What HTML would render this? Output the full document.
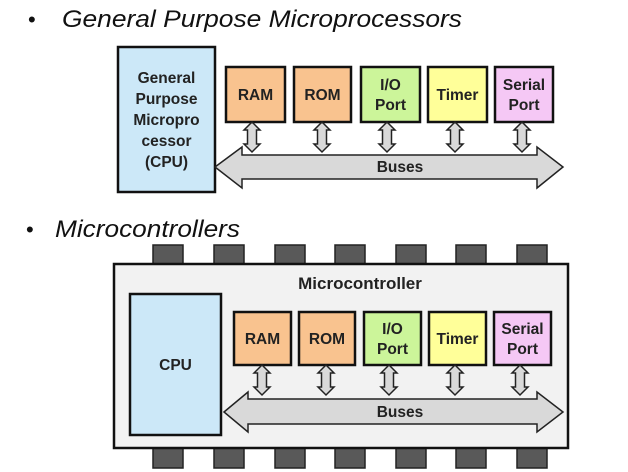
<!DOCTYPE html>
<html><head><meta charset="utf-8"><style>
html,body{margin:0;padding:0;background:#fff;}
svg{display:block;}
text{font-family:"Liberation Sans",Arial,sans-serif;}
.b{font-weight:bold;font-size:15.5px;fill:#222;text-anchor:middle;}
</style></head><body>
<svg width="628" height="472" viewBox="0 0 628 472" xmlns="http://www.w3.org/2000/svg">
<defs>
<path id="sa" d="M0,0 L8,8 L4.5,8 L4.5,22 L8,22 L0,30 L-8,22 L-4.5,22 L-4.5,8 L-8,8 Z" fill="#d9d9d9" stroke="#222" stroke-width="1.5"/>
</defs>
<rect width="628" height="472" fill="#fff"/>
<text x="28" y="27" font-size="22" fill="#111">•</text>
<text x="62" y="27" font-size="24" font-style="italic" fill="#111" textLength="400" lengthAdjust="spacingAndGlyphs">General Purpose Microprocessors</text>
<text x="26" y="237" font-size="22" fill="#111">•</text>
<text x="55" y="237" font-size="24" font-style="italic" fill="#111" textLength="185" lengthAdjust="spacingAndGlyphs">Microcontrollers</text>

<!-- top diagram -->
<rect x="118" y="47" width="97" height="145" fill="#cce8f8" stroke="#111" stroke-width="2.5"/>
<text class="b" x="166.5" y="83">General</text>
<text class="b" x="166.5" y="104">Purpose</text>
<text class="b" x="166.5" y="125">Micropro</text>
<text class="b" x="166.5" y="146">cessor</text>
<text class="b" x="166.5" y="167">(CPU)</text>
<rect x="226" y="67" width="59" height="55" fill="#f9c38f" stroke="#111" stroke-width="2.5"/>
<text class="b" x="255.5" y="100">RAM</text>
<rect x="294" y="67" width="57" height="55" fill="#f9c38f" stroke="#111" stroke-width="2.5"/>
<text class="b" x="322.5" y="100">ROM</text>
<rect x="361" y="67" width="59" height="55" fill="#ccf59a" stroke="#111" stroke-width="2.5"/>
<text class="b" x="390.5" y="90">I/O</text>
<text class="b" x="390.5" y="110">Port</text>
<rect x="428" y="67" width="59" height="55" fill="#ffff99" stroke="#111" stroke-width="2.5"/>
<text class="b" x="457.5" y="100">Timer</text>
<rect x="495" y="67" width="58" height="55" fill="#f5c8f5" stroke="#111" stroke-width="2.5"/>
<text class="b" x="524" y="90">Serial</text>
<text class="b" x="524" y="110">Port</text>
<use href="#sa" transform="translate(252,122)"/>
<use href="#sa" transform="translate(322,122)"/>
<use href="#sa" transform="translate(387,122)"/>
<use href="#sa" transform="translate(455,122)"/>
<use href="#sa" transform="translate(522,122)"/>
<path d="M215,167 L242,147 L242,155 L537,155 L537,147 L563,167 L537,188 L537,179 L242,179 L242,188 Z" fill="#d9d9d9" stroke="#222" stroke-width="1.5"/>
<text class="b" x="400" y="172">Buses</text>

<!-- bottom diagram -->
<g fill="#595959" stroke="#222" stroke-width="1.5">
<rect x="153" y="245" width="30" height="19"/><rect x="214" y="245" width="30" height="19"/>
<rect x="275" y="245" width="30" height="19"/><rect x="335" y="245" width="30" height="19"/>
<rect x="396" y="245" width="30" height="19"/><rect x="456" y="245" width="30" height="19"/>
<rect x="517" y="245" width="30" height="19"/>
<rect x="153" y="448" width="30" height="20"/><rect x="214" y="448" width="30" height="20"/>
<rect x="275" y="448" width="30" height="20"/><rect x="335" y="448" width="30" height="20"/>
<rect x="396" y="448" width="30" height="20"/><rect x="456" y="448" width="30" height="20"/>
<rect x="517" y="448" width="30" height="20"/>
</g>
<rect x="114" y="264" width="454" height="184" fill="#f2f2f2" stroke="#111" stroke-width="2.5"/>
<text class="b" x="360" y="289" style="font-size:17px">Microcontroller</text>
<rect x="130" y="294" width="91" height="141" fill="#cce8f8" stroke="#111" stroke-width="2.5"/>
<text class="b" x="175.5" y="370">CPU</text>
<rect x="234" y="312" width="57" height="53" fill="#f9c38f" stroke="#111" stroke-width="2.5"/>
<text class="b" x="262.5" y="344">RAM</text>
<rect x="299" y="312" width="56" height="53" fill="#f9c38f" stroke="#111" stroke-width="2.5"/>
<text class="b" x="327" y="344">ROM</text>
<rect x="364" y="312" width="57" height="53" fill="#ccf59a" stroke="#111" stroke-width="2.5"/>
<text class="b" x="392.5" y="334">I/O</text>
<text class="b" x="392.5" y="354">Port</text>
<rect x="429" y="312" width="57" height="53" fill="#ffff99" stroke="#111" stroke-width="2.5"/>
<text class="b" x="457.5" y="344">Timer</text>
<rect x="494" y="312" width="57" height="53" fill="#f5c8f5" stroke="#111" stroke-width="2.5"/>
<text class="b" x="522.5" y="334">Serial</text>
<text class="b" x="522.5" y="354">Port</text>
<use href="#sa" transform="translate(262,365)"/>
<use href="#sa" transform="translate(326,365)"/>
<use href="#sa" transform="translate(389,365)"/>
<use href="#sa" transform="translate(455,365)"/>
<use href="#sa" transform="translate(520,365)"/>
<path d="M224,412 L248,392 L248,399 L537,399 L537,392 L563,412 L537,432 L537,424 L248,424 L248,432 Z" fill="#d9d9d9" stroke="#222" stroke-width="1.5"/>
<text class="b" x="400" y="417">Buses</text>
</svg>
</body></html>
